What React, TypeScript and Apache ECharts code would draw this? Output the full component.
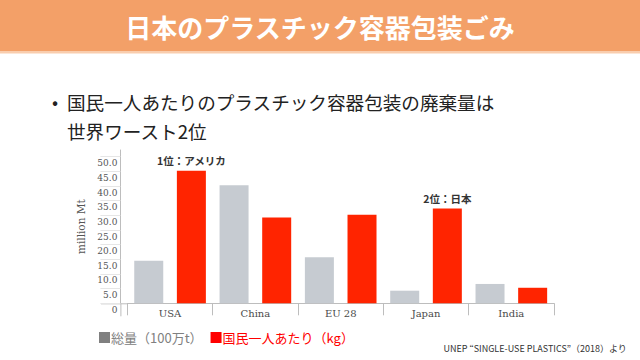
import React, { useEffect, useRef } from "react";
import * as echarts from "echarts";

const categories = ["USA", "China", "EU 28", "Japan", "India"];
const totalValues = [14.5, 40.3, 15.7, 4.3, 6.6];
const perCapitaValues = [45.2, 29.3, 30.2, 32.3, 5.3];
const perCapitaNotes = ["1位：アメリカ", "", "", "2位：日本", ""];
const legendNames = ["総量（100万t）", "国民一人あたり（kg）"];

const GRAY = "#C6CBD1";
const RED = "#FF2400";
const SERIF = "'DejaVu Serif', 'Liberation Serif', serif";
const JP = "'Noto Sans CJK JP', 'Noto Sans', sans-serif";

export default function App() {
  const ref = useRef<HTMLDivElement>(null);
  useEffect(() => {
    if (!ref.current) return;
    const chart = echarts.init(ref.current, null, { renderer: "svg" });
    const gridLeft = 127.4;
    const gridTop = 150;
    const gridBottomY = 303.3;
    chart.setOption({
      animation: false,
      backgroundColor: "#ffffff",
      grid: { left: gridLeft, right: 86, top: gridTop, bottom: 360 - gridBottomY },
      legend: {
        left: 94,
        top: 326,
        icon: "rect",
        itemWidth: 11,
        itemHeight: 11,
        itemGap: 8,
        selectedMode: false,
        textStyle: { fontFamily: JP, fontSize: 13, padding: [0, 0, 0, -4] },
        data: [
          { name: legendNames[0], itemStyle: { color: "#808080" }, textStyle: { color: "#808080" } },
          { name: legendNames[1], itemStyle: { color: "#FF0000" }, textStyle: { color: "#FF0000" } },
        ],
      },
      xAxis: {
        type: "category",
        data: categories,
        axisLine: { lineStyle: { color: "#BDBDBD", width: 1 } },
        axisTick: { show: true, length: 12, lineStyle: { color: "#BDBDBD" } },
        axisLabel: { fontFamily: SERIF, fontSize: 10, color: "#4a4a4a", margin: 5 },
      },
      yAxis: {
        type: "value",
        min: 0,
        max: 52.3,
        interval: 5,
        offset: 7,
        name: "million Mt",
        nameLocation: "middle",
        nameRotate: 90,
        nameGap: 24,
        nameTextStyle: { fontFamily: SERIF, fontSize: 10.5, color: "#555" },
        axisLine: { show: true, lineStyle: { color: "#BDBDBD" } },
        axisTick: { show: true, length: 20, lineStyle: { color: "#E6E6E6" } },
        splitLine: { show: false },
        axisLabel: {
          showMaxLabel: false,
          fontFamily: SERIF,
          fontSize: 9,
          color: "#555",
          margin: 3,
          verticalAlign: "top",
          padding: [2, 0, 0, 0],
          formatter: (v: number) => (v === 0 ? "0" : v.toFixed(1)),
        },
      },
      series: [
        {
          name: legendNames[0],
          type: "bar",
          data: totalValues,
          barWidth: 29,
          barGap: "47%",
          itemStyle: { color: GRAY },
        },
        {
          name: legendNames[1],
          type: "bar",
          barWidth: 29,
          data: perCapitaValues.map((v, i) => ({
            value: v,
            label: perCapitaNotes[i]
              ? {
                  show: true,
                  position: "top",
                  distance: 5,
                  formatter: perCapitaNotes[i],
                  fontFamily: JP,
                  fontWeight: "bold",
                  fontSize: 10.5,
                  color: "#333",
                }
              : { show: false },
          })),
          itemStyle: { color: RED },
        },
      ],
      graphic: [
        { type: "rect", shape: { x: 0, y: 0, width: 640, height: 51 }, style: { fill: "#F3A068" } },
        { type: "rect", shape: { x: 0, y: 51, width: 640, height: 2.5 }, style: { fill: "#F9CDAE" } },
        {
          type: "text",
          x: 320,
          y: 26,
          style: {
            text: "日本のプラスチック容器包装ごみ",
            fill: "#ffffff",
            font: `bold 26px ${JP}`,
            textAlign: "center",
            textVerticalAlign: "middle",
          },
        },
        {
          type: "text",
          x: 52,
          y: 101,
          style: { text: "•", fill: "#222", font: `18px ${JP}`, textVerticalAlign: "middle" },
        },
        {
          type: "text",
          x: 67,
          y: 101,
          style: {
            text: "国民一人あたりのプラスチック容器包装の廃棄量は",
            fill: "#222",
            font: `18.6px ${JP}`,
            textVerticalAlign: "middle",
          },
        },
        {
          type: "text",
          x: 67,
          y: 130,
          style: { text: "世界ワースト2位", fill: "#222", font: `18.6px ${JP}`, textVerticalAlign: "middle" },
        },
        {
          type: "line",
          shape: { x1: 101, y1: gridBottomY + 0.5, x2: gridLeft, y2: gridBottomY + 0.5 },
          style: { stroke: "#BDBDBD", lineWidth: 1 },
        },
        {
          type: "line",
          shape: { x1: gridLeft - 6.5, y1: gridBottomY, x2: gridLeft - 6.5, y2: gridBottomY + 13 },
          style: { stroke: "#BDBDBD", lineWidth: 1 },
        },
        {
          type: "text",
          right: 13,
          top: 344,
          style: {
            text: "UNEP “SINGLE-USE PLASTICS”（2018）より",
            fill: "#333",
            font: `9px ${JP}`,
          },
        },
      ],
    });
    return () => chart.dispose();
  }, []);
  return (
    <div
      ref={ref}
      style={{ position: "fixed", left: 0, top: 0, width: 640, height: 360 }}
    />
  );
}
